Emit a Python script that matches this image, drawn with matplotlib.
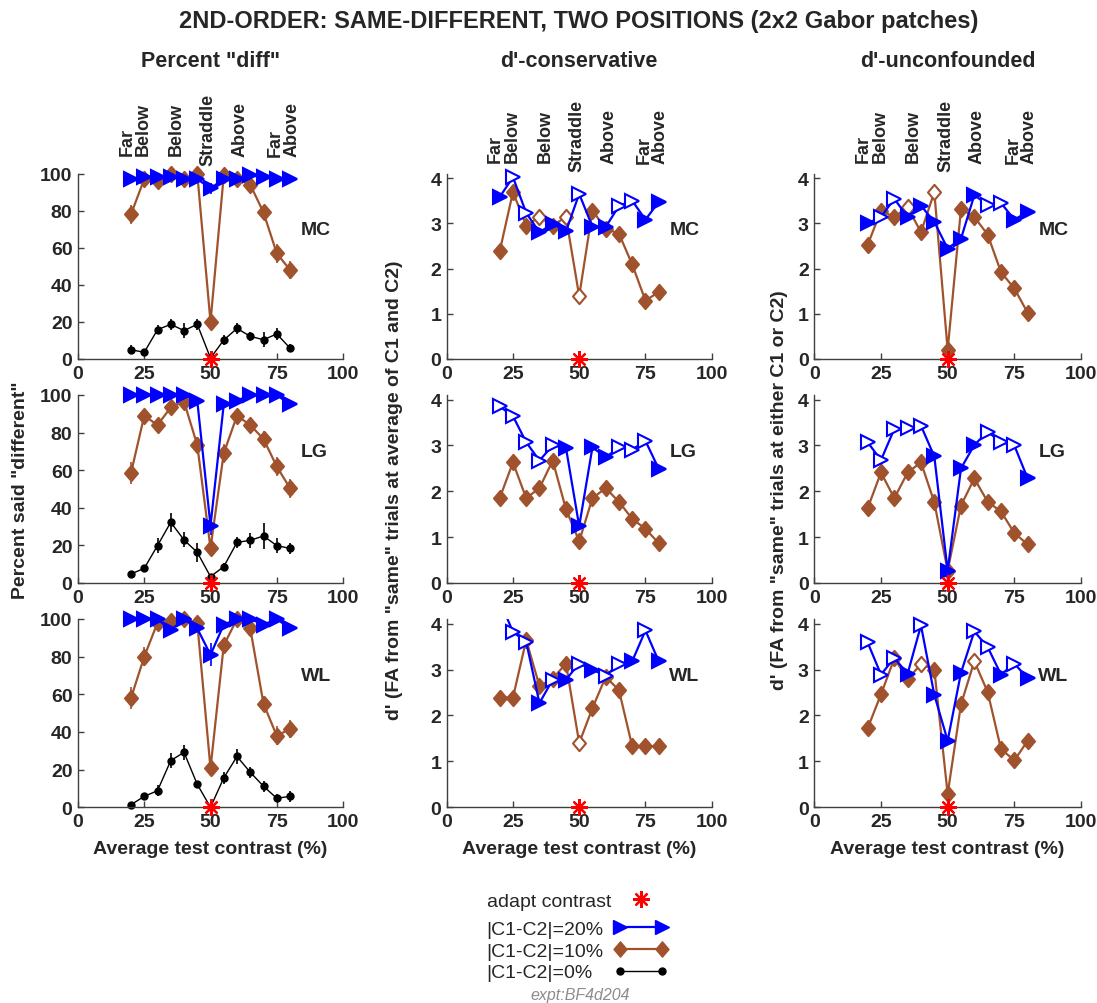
import numpy as np
import matplotlib
matplotlib.use('Agg')
import matplotlib.pyplot as plt
from matplotlib.path import Path
from matplotlib.lines import Line2D
from matplotlib.legend_handler import HandlerLine2D

plt.rcParams['font.family'] = ['Liberation Sans', 'DejaVu Sans']

# ---------------- data ----------------
x = [20, 25, 30, 35, 40, 45, 50, 55, 60, 65, 70, 75, 80]
adapt_contrast = 50
subjects = ['MC', 'LG', 'WL']
region_labels = ['Far\nBelow', 'Below', 'Straddle', 'Above', 'Far\nAbove']
region_pos = [21.5, 37.2, 49.2, 61.1, 77.5]

# Percent "diff"
pd_MC_20 = [97, 98, 98, 98, 97, 97, 92, 97, 97, 99, 98, 97, 97]
pd_MC_10 = [78, 97, 96, 100, 97, 100, 20, 99, 97, 94, 79, 57, 48]
pd_MC_0 = [5, 3.6, 15.8, 18.7, 15.3, 18.7, 0.5, 10.2, 16.5, 12.2, 10.4, 13.5, 5.9]
pd_LG_20 = [100, 100, 100, 100, 100, 97, 30.5, 95, 97, 100, 100, 100, 95]
pd_LG_10 = [58.5, 89, 84, 93.4, 96.5, 73.4, 18.6, 69, 89, 84, 76.6, 62, 50.4]
pd_LG_0 = [4.8, 7.8, 19.9, 32.3, 22.9, 16.3, 3.4, 8.7, 21.6, 22.7, 25, 19.9, 18.4]
pd_WL_20 = [100, 100, 100, 94, 100, 95, 81, 97, 100, 100, 97, 100, 95]
pd_WL_10 = [58, 80, 98, 99, 100, 98, 20.7, 86, 100, 95, 55, 38, 41.6]
pd_WL_0 = [1.4, 5.8, 8.8, 24.8, 29.2, 12.2, 0, 15.6, 27, 18.6, 11.2, 4.8, 5.8]

# error bars (percent)
err_MC_20 = [1, 1, 1, 1, 1, 1, 3, 1, 1, 1, 1, 1, 1]
err_MC_10 = [5, 2, 2, 2, 2, 2, 3, 2, 2, 2, 4, 5, 5]
err_MC_0 = [2.5, 1.5, 2.5, 3, 4, 3, 1, 2.5, 3, 2.5, 4, 3, 2]
err_LG_20 = [0.5, 0.5, 0.5, 0.5, 0.5, 1, 5, 1.5, 1, 0.5, 0.5, 0.5, 1.5]
err_LG_10 = [6, 3, 3, 3, 2, 4, 4, 5, 3, 3, 4, 5, 5]
err_LG_0 = [1.5, 2, 4, 5, 4, 5, 1, 2, 3, 4, 7, 4, 3]
err_WL_20 = [0.5, 0.5, 0.5, 2, 0.5, 2, 6, 1.5, 0.5, 0.5, 1.5, 0.5, 2]
err_WL_10 = [6, 5, 2, 2, 2, 2, 4, 4, 2, 3, 4, 5, 5]
err_WL_0 = [1, 2, 3, 4, 4, 2, 0.5, 3, 4, 3, 3, 2, 3]

# d'-conservative (open = 1 for open markers)
dc_MC_20 = [3.58, 4.02, 3.23, 2.80, 2.99, 2.82, 3.65, 2.92, 2.92, 3.38, 3.50, 3.08, 3.47]
dc_MC_20_open = [0, 1, 1, 0, 0, 0, 1, 0, 0, 1, 1, 0, 0]
dc_MC_10 = [2.38, 3.69, 2.95, 3.14, 2.95, 3.14, 1.39, 3.28, 2.88, 2.77, 2.09, 1.29, 1.48]
dc_MC_10_open = [0, 0, 0, 1, 0, 1, 1, 0, 0, 0, 0, 0, 0]
dc_LG_20 = [3.85, 3.64, 3.07, 2.67, 3.00, 2.95, 1.24, 2.96, 2.74, 2.96, 2.91, 3.10, 2.49]
dc_LG_20_open = [1, 1, 1, 1, 1, 0, 0, 0, 0, 1, 1, 1, 0]
dc_LG_10 = [1.85, 2.63, 1.85, 2.07, 2.67, 1.61, 0.91, 1.85, 2.07, 1.77, 1.40, 1.18, 0.87]
dc_LG_10_open = [0, 0, 0, 0, 0, 0, 0, 0, 0, 0, 0, 0, 0]
dc_WL_20 = [4.50, 3.82, 3.60, 2.27, 2.78, 2.78, 3.13, 3.00, 2.86, 3.13, 3.18, 3.85, 3.18]
dc_WL_20_open = [1, 1, 1, 0, 1, 0, 1, 0, 1, 1, 0, 1, 0]
dc_WL_10 = [2.39, 2.39, 3.64, 2.64, 2.80, 3.13, 1.40, 2.16, 2.84, 2.55, 1.33, 1.33, 1.33]
dc_WL_10_open = [0, 0, 0, 0, 0, 0, 1, 0, 0, 0, 0, 0, 0]

# d'-unconfounded
du_MC_20 = [3.00, 3.14, 3.54, 3.14, 3.39, 3.03, 2.44, 2.66, 3.62, 3.41, 3.45, 3.08, 3.25]
du_MC_20_open = [0, 1, 1, 0, 0, 0, 0, 0, 0, 1, 1, 0, 0]
du_MC_10 = [2.52, 3.28, 3.14, 3.36, 2.80, 3.69, 0.20, 3.32, 3.14, 2.75, 1.92, 1.56, 1.02]
du_MC_10_open = [0, 0, 0, 1, 0, 1, 0, 0, 0, 0, 0, 0, 0]
du_LG_20 = [3.07, 2.68, 3.36, 3.37, 3.43, 2.76, 0.27, 2.50, 3.01, 3.30, 3.07, 3.00, 2.28]
du_LG_20_open = [1, 1, 1, 1, 1, 0, 0, 0, 0, 1, 1, 1, 0]
du_LG_10 = [1.63, 2.41, 1.85, 2.41, 2.63, 1.76, 0.27, 1.69, 2.28, 1.77, 1.56, 1.09, 0.84]
du_LG_10_open = [0, 0, 0, 0, 0, 0, 0, 0, 0, 0, 0, 0, 0]
du_WL_20 = [3.59, 2.89, 3.25, 2.91, 3.96, 2.45, 1.45, 2.93, 3.83, 3.49, 2.89, 3.13, 2.81]
du_WL_20_open = [1, 1, 1, 0, 1, 0, 0, 0, 1, 1, 0, 1, 0]
du_WL_10 = [1.72, 2.46, 3.24, 2.80, 3.11, 3.00, 0.29, 2.24, 3.18, 2.51, 1.27, 1.02, 1.45]
du_WL_10_open = [0, 0, 0, 0, 1, 0, 0, 0, 1, 0, 0, 0, 0]

col_titles = ['Percent "diff"', "d'-conservative", "d'-unconfounded"]
ylabels = ['Percent said "different"',
           'd\' (FA from "same" trials at average of C1 and C2)',
           'd\' (FA from "same" trials at either C1 or C2)']
xlabel = 'Average test contrast (%)'
title = '2ND-ORDER: SAME-DIFFERENT, TWO POSITIONS (2x2 Gabor patches)'
leg_labels = ['|C1-C2|=20%', '|C1-C2|=10%', '|C1-C2|=0%']

# ---------------- style ----------------
W, H = 1097, 1004
BLUE = '#0000FF'
BROWN = '#A0522D'
RED = '#FF0000'
AXC = '#404040'
TXC = '#262626'
diamond = Path([(0, 1), (0.85, 0), (0, -1), (-0.85, 0), (0, 1)],
               [Path.MOVETO, Path.LINETO, Path.LINETO, Path.LINETO, Path.CLOSEPOLY])
ast = (8, 2, 0)

fig = plt.figure(figsize=(W / 100, H / 100), dpi=100)

col_left = [78, 446.7, 814.3]
col_w = [265, 265, 266.7]
row_top = [174.5, 396, 620]
row_bot = [360, 584, 808.3]

data = {
    0: [(pd_MC_20, None, err_MC_20, pd_MC_10, None, err_MC_10, pd_MC_0, err_MC_0),
        (pd_LG_20, None, err_LG_20, pd_LG_10, None, err_LG_10, pd_LG_0, err_LG_0),
        (pd_WL_20, None, err_WL_20, pd_WL_10, None, err_WL_10, pd_WL_0, err_WL_0)],
    1: [(dc_MC_20, dc_MC_20_open, None, dc_MC_10, dc_MC_10_open, None, None, None),
        (dc_LG_20, dc_LG_20_open, None, dc_LG_10, dc_LG_10_open, None, None, None),
        (dc_WL_20, dc_WL_20_open, None, dc_WL_10, dc_WL_10_open, None, None, None)],
    2: [(du_MC_20, du_MC_20_open, None, du_MC_10, du_MC_10_open, None, None, None),
        (du_LG_20, du_LG_20_open, None, du_LG_10, du_LG_10_open, None, None, None),
        (du_WL_20, du_WL_20_open, None, du_WL_10, du_WL_10_open, None, None, None)],
}


def series(ax, y, color, marker, ms, lw, ytop, open_flags=None, err=None, z=3, mew=1.5):
    y = np.asarray(y, float)
    xs = np.asarray(x, float)
    ax.plot(xs, y, '-', color=color, lw=lw, zorder=z)
    if err is not None:
        ax.errorbar(xs, y, yerr=err, fmt='none', ecolor=color, elinewidth=1.2,
                    capsize=0, zorder=z)
    yv = np.where(y <= ytop + 1e-9, y, np.nan)
    o = np.zeros(len(y), bool) if open_flags is None else np.asarray(open_flags, bool)
    ax.plot(xs, np.where(~o, yv, np.nan), ls='none', marker=marker, ms=ms,
            mfc=color, mec=color, mew=mew, clip_on=False, zorder=z + 0.1)
    if o.any():
        ax.plot(xs, np.where(o, yv, np.nan), ls='none', marker=marker, ms=ms,
                mfc='white', mec=color, mew=mew, clip_on=False, zorder=z + 0.2)


for c in range(3):
    for r in range(3):
        l = col_left[c] / W
        b = 1 - row_bot[r] / H
        w = col_w[c] / W
        h = (row_bot[r] - row_top[r]) / H
        ax = fig.add_axes([l, b, w, h])
        ytop = 100 if c == 0 else 4.1
        ax.set_xlim(0, 100)
        ax.set_ylim(0, ytop)
        ax.set_facecolor('none')
        for s in ['top', 'right']:
            ax.spines[s].set_visible(False)
        for s in ['left', 'bottom']:
            ax.spines[s].set_color(AXC)
            ax.spines[s].set_linewidth(1.0)
        ax.set_xticks([0, 25, 50, 75, 100])
        ax.set_yticks([0, 20, 40, 60, 80, 100] if c == 0 else [0, 1, 2, 3, 4])
        ax.tick_params(direction='in', length=4, width=1, color=AXC,
                       labelsize=14, labelcolor=TXC, pad=4)
        for t in ax.get_xticklabels() + ax.get_yticklabels():
            t.set_fontweight('bold')

        y20, o20, e20, y10, o10, e10, y0, e0 = data[c][r]
        if y0 is not None:
            series(ax, y0, 'black', 'o', 5, 1.0, ytop, err=e0, z=2, mew=1)
        series(ax, y10, BROWN, diamond, 11, 1.6, ytop, open_flags=o10, err=e10, z=3)
        series(ax, y20, BLUE, '>', 10.5, 1.6, ytop, open_flags=o20, err=e20, z=4)

        ax.plot([adapt_contrast], [0], ls='none', marker=ast, ms=12, color=RED,
                mew=1.6, clip_on=False, zorder=10)

        ax.text(84, 0.70, subjects[r], transform=ax.get_xaxis_transform(),
                ha='left', va='center', fontsize=14, fontweight='bold', color=TXC)

        if r == 0:
            ycat = 1.24 if c == 0 else 1.207
            for lab, px in zip(region_labels, region_pos):
                ax.text(px, ycat, lab, transform=ax.get_xaxis_transform(),
                        rotation=90, ha='center', va='center', ma='left',
                        linespacing=0.95, fontsize=13, fontweight='bold', color=TXC)
        if r == 1:
            ax.set_ylabel(ylabels[c], fontsize=14, fontweight='bold', color=TXC)
            ylx = [-0.185, -0.165, -0.0985][c]
            ax.yaxis.set_label_coords(ylx, 0.5)
        if r == 2:
            ax.set_xlabel(xlabel, fontsize=14, fontweight='bold', color=TXC)
            ax.xaxis.set_label_coords(0.5, -0.175)

    fig.text((col_left[c] + col_w[c] / 2) / W, 1 - 66.7 / H, col_titles[c],
             ha='center', va='baseline', fontsize=15.5, fontweight='bold', color=TXC)

fig.text(578.5 / W, 1 - 28.3 / H, title, ha='center', va='baseline',
         fontsize=17, fontweight='bold', color=TXC)

# ---------------- legend ----------------
h_star = Line2D([], [], ls='none', marker=ast, ms=12, color=RED, mew=1.6)
h20 = Line2D([], [], color=BLUE, lw=1.6, marker='>', ms=10.5)
h10 = Line2D([], [], color=BROWN, lw=1.6, marker=diamond, ms=11)
h0 = Line2D([], [], color='black', lw=1.0, marker='o', ms=5)

LEG_X = 486.7        # left edge of legend text (px)
HANDLE_X = 614.2     # left edge of handle boxes (px)

legA = fig.legend([h_star], ['adapt contrast'], loc='center left',
                  bbox_to_anchor=(LEG_X / W, 1 - 901.7 / H), frameon=False,
                  markerfirst=False, fontsize=14, handlelength=2.76,
                  handletextpad=0.3, borderpad=0, borderaxespad=0,
                  handler_map={h_star: HandlerLine2D(numpoints=1)})
legB = fig.legend([h20, h10, h0], leg_labels, loc='center left',
                  bbox_to_anchor=(LEG_X / W, 1 - 951.7 / H), frameon=False,
                  markerfirst=False, fontsize=14, numpoints=2, handlelength=2.76,
                  handletextpad=0.3, labelspacing=0.22, borderpad=0, borderaxespad=0)
for t in legA.get_texts() + legB.get_texts():
    t.set_color(TXC)

# left-align legend texts and line up all handles at HANDLE_X
renderer = fig.canvas.get_renderer()
for leg in (legA, legB):
    col = leg._legend_handle_box.get_children()[0]
    for row, t in zip(col.get_children(), leg.get_texts()):
        wpx = t.get_window_extent(renderer).width
        row.sep = max(0.0, (HANDLE_X - LEG_X - wpx)) * 72.0 / fig.dpi

fig.text(580 / W, 1 - 996 / H, 'expt:BF4d204', ha='center', va='center',
         fontsize=11.5, style='italic', color='#8c8c8c')

fig.savefig('out.png', dpi=100)
